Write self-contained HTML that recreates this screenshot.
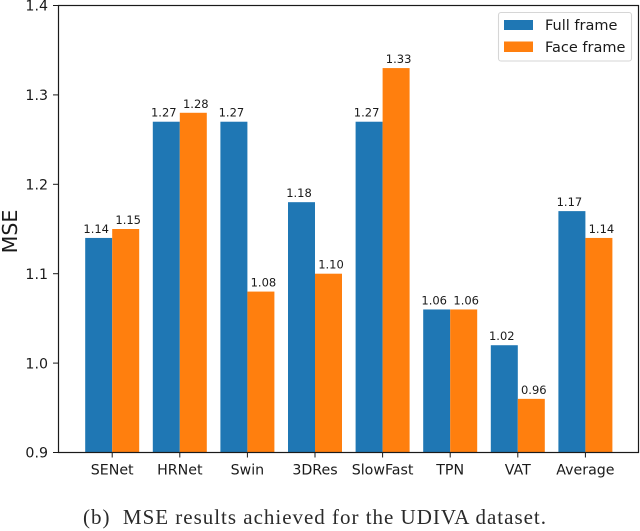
<!DOCTYPE html>
<html lang="en">
<head>
<meta charset="utf-8">
<title>MSE results for the UDIVA dataset</title>
<style>
html,body{margin:0;padding:0;background:#fff;width:640px;height:531px;overflow:hidden}
svg{display:block}
text{font-family:"DejaVu Sans","Liberation Sans",sans-serif;fill:#1a1a1a}
</style>
</head>
<body>
<svg id="chart" width="640" height="531" viewBox="0 0 640 531" xmlns="http://www.w3.org/2000/svg">
  <rect x="58.5" y="5.5" width="580" height="447" fill="#fff"/>
  <g id="bars"></g>
  <g id="value-labels"></g>
  <g id="ticks"></g>
  <rect x="58.5" y="5.5" width="580" height="447" fill="none" stroke="#1a1a1a" stroke-width="1.2"/>
  <text transform="translate(17,231.5) rotate(-90)" text-anchor="middle" font-size="20.6">MSE</text>
  <g>
    <rect x="498.5" y="12.5" width="133" height="48.5" rx="2.5" fill="#fff" stroke="#d6d6d6" stroke-width="1.1"/>
    <rect x="504" y="20" width="29" height="10" fill="#1f77b4"/>
    <text x="545" y="30" font-size="14.5">Full frame</text>
    <rect x="504" y="41.5" width="29" height="10.5" fill="#ff7f0e"/>
    <text x="545" y="52" font-size="14.5">Face frame</text>
  </g>
  <text x="83" y="524" textLength="463" lengthAdjust="spacing" style="font-family:'Liberation Serif','DejaVu Serif',serif;fill:#2a2a2a" font-size="21">(b)&#160; MSE results achieved for the UDIVA dataset.</text>
</svg>
<script>
const categories = ['SENet', 'HRNet', 'Swin', '3DRes', 'SlowFast', 'TPN', 'VAT', 'Average'];
const fullFrame = [1.14, 1.27, 1.27, 1.18, 1.27, 1.06, 1.02, 1.17];
const faceFrame = [1.15, 1.28, 1.08, 1.10, 1.33, 1.06, 0.96, 1.14];
const yTicks = [0.9, 1.0, 1.1, 1.2, 1.3, 1.4];

const NS = 'http://www.w3.org/2000/svg';
const yMin = 0.9, yMax = 1.4;
const plotTop = 5.5, plotBottom = 452.5;
const firstCenter = 112.2, step = 67.6, barWidth = 27;

function xScale(i) { return firstCenter + i * step; }
function yScale(v) { return plotBottom - (v - yMin) / (yMax - yMin) * (plotBottom - plotTop); }

function make(tag, parent, attrs, txt) {
  const el = document.createElementNS(NS, tag);
  for (const k in attrs) el.setAttribute(k, attrs[k]);
  if (txt !== undefined) el.textContent = txt;
  parent.appendChild(el);
  return el;
}

const barsG = document.getElementById('bars');
const labelsG = document.getElementById('value-labels');
const ticksG = document.getElementById('ticks');

categories.forEach(function (cat, i) {
  const cx = xScale(i);
  const slug = cat.toLowerCase();

  const y1 = yScale(fullFrame[i]);
  const b1 = make('rect', barsG, {x: cx - barWidth, y: y1, width: barWidth, height: Math.max(0, plotBottom - y1), fill: '#1f77b4'});
  
  

  const y2 = yScale(faceFrame[i]);
  const b2 = make('rect', barsG, {x: cx, y: y2, width: barWidth, height: Math.max(0, plotBottom - y2), fill: '#ff7f0e'});
  
  

  const t1 = make('text', labelsG, {x: cx - barWidth / 2 - 2.5, y: y1 - 5, 'text-anchor': 'middle', 'font-size': 11.5}, fullFrame[i].toFixed(2));
  
  

  const t2 = make('text', labelsG, {x: cx + barWidth / 2 + 2.5, y: y2 - 5, 'text-anchor': 'middle', 'font-size': 11.5}, faceFrame[i].toFixed(2));
  
  

  const tick = make('line', ticksG, {x1: cx, x2: cx, y1: plotBottom, y2: plotBottom + 5, stroke: '#1a1a1a', 'stroke-width': 1});
  
  

  const tl = make('text', ticksG, {x: cx, y: 474.5, 'text-anchor': 'middle', 'font-size': 14.2}, cat);
  
  
});

yTicks.forEach(function (v) {
  const y = yScale(v);
  const tick = make('line', ticksG, {x1: 53, x2: 58.5, y1: y, y2: y, stroke: '#1a1a1a', 'stroke-width': 1});
  
  

  const tl = make('text', ticksG, {x: 48, y: y + 5.2, 'text-anchor': 'end', 'font-size': 14.2}, v.toFixed(1));
  
  
});
</script>
</body>
</html>
